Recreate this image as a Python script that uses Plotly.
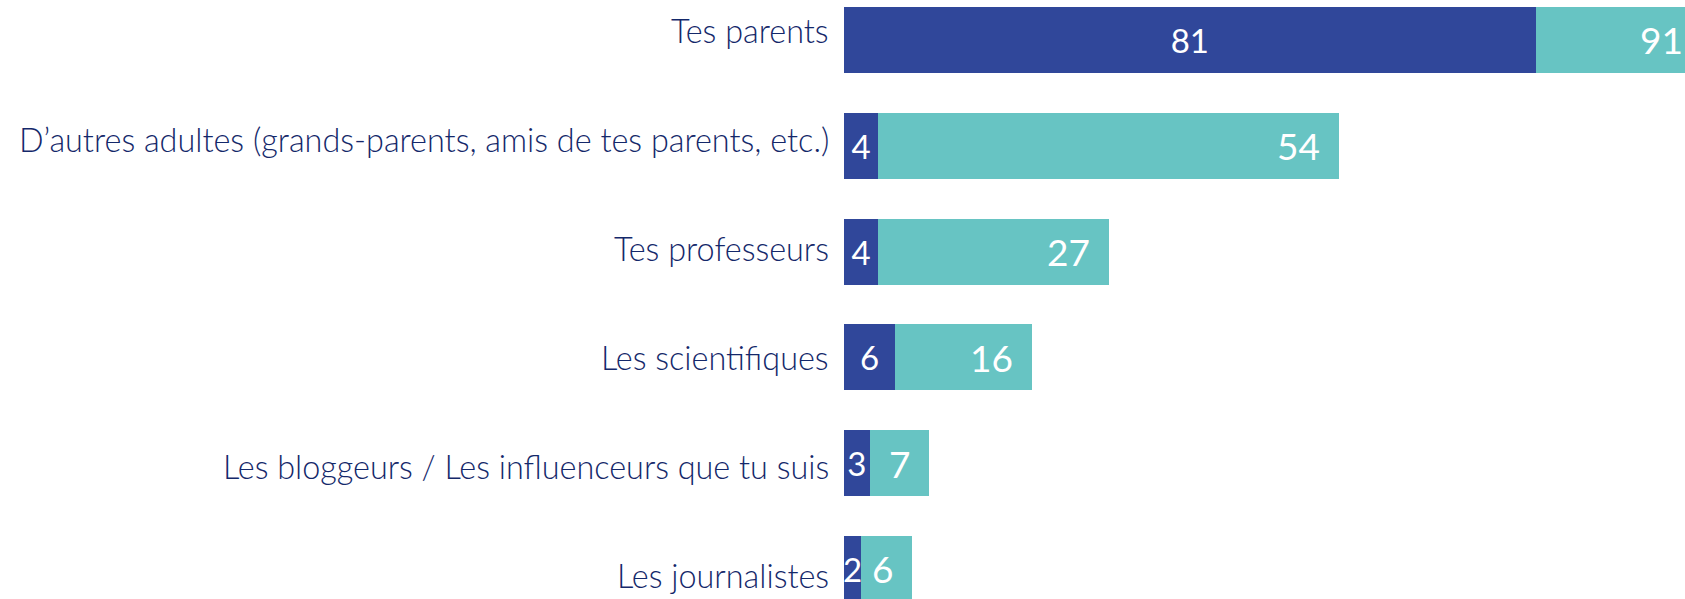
import plotly.graph_objects as go

# Sources of information, share of answers (%)
categories = [
    "Tes parents",
    "D’autres adultes (grands-parents, amis de tes parents, etc.)",
    "Tes professeurs",
    "Les scientifiques",
    "Les bloggeurs / Les influenceurs que tu suis",
    "Les journalistes",
]
first_choice = [81, 4, 4, 6, 3, 2]
other_choices = [91, 54, 27, 16, 7, 6]

DARK = "#30479A"
TEAL = "#67C4C3"
NAVY = "#14286A"
X_MAX = 98.5

fig = go.Figure()

fig.add_trace(go.Bar(
    y=categories, x=first_choice, orientation="h",
    marker=dict(color=DARK, line=dict(width=0)),
    text=[str(v) for v in first_choice],
    textposition="inside", insidetextanchor="middle",
    constraintext="none", textangle=0,
    textfont=dict(family="Lato", size=33, color="white"),
    hoverinfo="skip",
))
fig.add_trace(go.Bar(
    y=categories, x=other_choices, orientation="h",
    marker=dict(color=TEAL, line=dict(width=0)),
    textposition="none",
    hoverinfo="skip",
))

annotations = []
# values of the second segment, placed at its (visible) end
for cat, a, b in zip(categories, first_choice, other_choices):
    end = a + b
    clipped = end > X_MAX
    annotations.append(dict(
        x=min(end, X_MAX), y=cat, xref="x", yref="y",
        text=str(b), showarrow=False, xanchor="right", yanchor="middle",
        xshift=0 if clipped else -17,
        font=dict(family="Lato", size=37, color="white"),
    ))

# category names, right-aligned against the bars
LABEL_TOP = 31.5
LABEL_STEP = 109.05
HEIGHT = 599
for i, cat in enumerate(categories):
    ypx = LABEL_TOP + LABEL_STEP * i
    annotations.append(dict(
        x=0, y=1 - ypx / HEIGHT, xref="x", yref="paper",
        text=cat, showarrow=False, xanchor="right", yanchor="middle",
        xshift=-13, yshift=1,
        font=dict(family="Lato", size=32.4, color=NAVY, weight=300),
    ))

fig.update_layout(
    barmode="stack",
    bargap=0.376,
    width=1685, height=HEIGHT,
    margin=dict(l=844, r=0, t=0, b=0),
    paper_bgcolor="white", plot_bgcolor="white",
    showlegend=False,
    annotations=annotations,
    xaxis=dict(range=[0, X_MAX], visible=False, fixedrange=True),
    yaxis=dict(type="category", range=[5.284, -0.377], showticklabels=False,
               showgrid=False, zeroline=False, showline=False, ticks=""),
)

fig.write_html("out.html")
